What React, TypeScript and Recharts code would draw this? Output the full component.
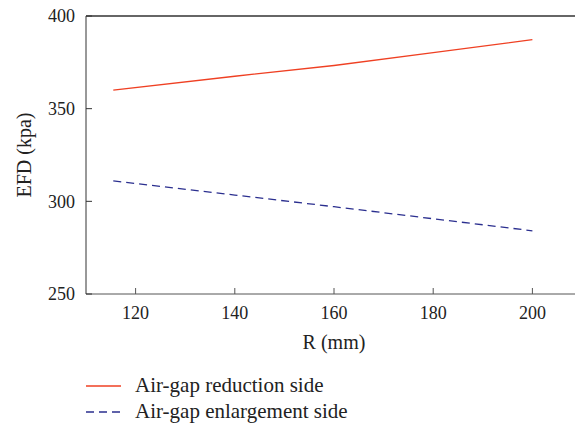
import React from 'react';
import { LineChart, Line, XAxis, YAxis, Legend, ReferenceLine, Label } from 'recharts';

const radius = [115.5, 140, 160, 180, 200];
const reductionSide = [360, 367.5, 373.3, 380.2, 387.2];
const enlargementSide = [311, 303.4, 297.1, 290.6, 284.1];
const xTicks = [120, 140, 160, 180, 200];
const yTicks = [250, 300, 350, 400];

const RED = '#ef4023';
const BLUE = '#2b2f8f';
const FONT = '"Liberation Serif", "Times New Roman", serif';

const data = radius.map((r, i) => ({
  r,
  reduction: reductionSide[i],
  enlargement: enlargementSide[i],
}));

const tickStyle = { fontSize: 18, fill: '#222', fontFamily: FONT };

function renderLegend() {
  return (
    <svg width={420} height={56} style={{ display: 'block', fontFamily: FONT }}>
      <line x1={86} x2={121} y1={16} y2={16} stroke={RED} strokeWidth={1.3} />
      <text x={135} y={22} fontSize={21} fill="#222">Air-gap reduction side</text>
      <line x1={86} x2={121} y1={42} y2={42} stroke={BLUE} strokeWidth={1.3} strokeDasharray="8 5" />
      <text x={135} y={48} fontSize={21} fill="#222">Air-gap enlargement side</text>
    </svg>
  );
}

export default function App() {
  return (
    <div style={{ position: 'absolute', left: 0, top: 0, width: 575, height: 427, overflow: 'hidden', background: '#fff', fontFamily: FONT }}>
      <LineChart width={600} height={427} data={data} margin={{ top: 16, right: 18, left: 0, bottom: 17 }}>
        <XAxis
          dataKey="r"
          type="number"
          domain={[110, 210]}
          ticks={xTicks}
          tickSize={-6}
          tickMargin={18}
          height={60}
          stroke="#555"
          tick={tickStyle}
        >
          <Label value="R (mm)" position="insideBottom" offset={5} style={{ fontSize: 20, fill: '#222', fontFamily: FONT }} />
        </XAxis>
        <YAxis
          type="number"
          domain={[250, 400]}
          ticks={yTicks}
          tickSize={-6}
          tickMargin={17}
          width={86}
          stroke="#333"
          tick={tickStyle}
        >
          <Label
            content={(props: any) => {
              const vb = props.viewBox;
              const cy = vb.y + vb.height / 2;
              return (
                <text x={31} y={cy} transform={`rotate(-90, 31, ${cy})`} textAnchor="middle" fontSize={20} fontFamily={FONT} fill="#222">
                  EFD (kpa)
                </text>
              );
            }}
          />
        </YAxis>
        <ReferenceLine y={400} stroke="#333" strokeWidth={1.5} ifOverflow="extendDomain" />
        <Line dataKey="reduction" stroke={RED} strokeWidth={1.3} dot={false} isAnimationActive={false} />
        <Line dataKey="enlargement" stroke={BLUE} strokeWidth={1.3} strokeDasharray="8 5" dot={false} isAnimationActive={false} />
        <Legend content={renderLegend} wrapperStyle={{ position: 'absolute', left: 0, top: 370, width: 420 }} />
      </LineChart>
    </div>
  );
}
